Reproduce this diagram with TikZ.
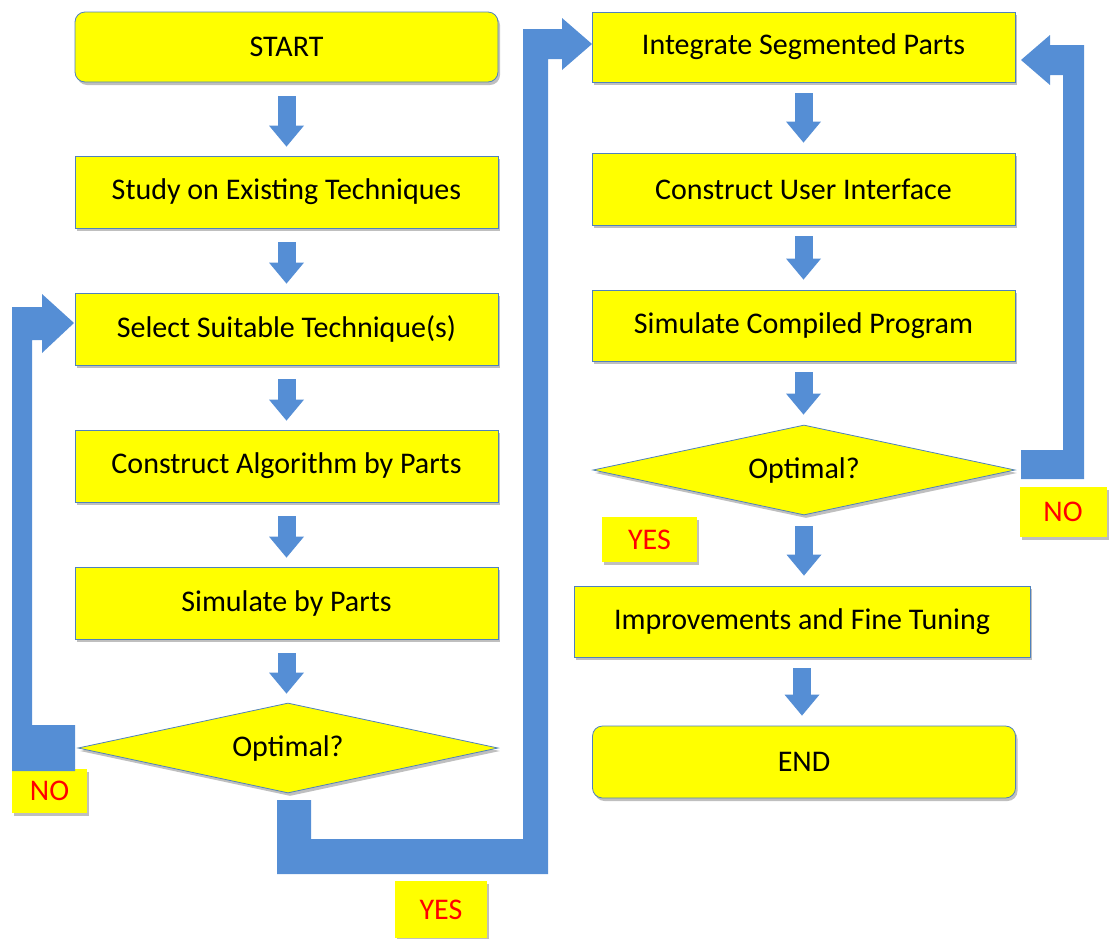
\documentclass[tikz,border=0pt]{standalone}
\usepackage{fontspec}
\setmainfont{Carlito}
\usetikzlibrary{shapes.geometric,arrows.meta,shadows}
\definecolor{boxyellow}{RGB}{255,255,0}
\definecolor{boxborder}{RGB}{79,129,189}
\definecolor{arrowblue}{RGB}{85,142,213}
\definecolor{labelred}{RGB}{255,0,0}
\begin{document}
\begin{tikzpicture}[x=1pt,y=-1pt,
  font=\fontsize{30}{36}\selectfont,
  shadowed/.style={drop shadow={shadow xshift=2pt,shadow yshift=-3pt,opacity=0.25,fill=black}},
  procbox/.style={draw=boxborder,line width=0.8pt,fill=boxyellow,minimum width=423pt,minimum height=72pt,inner sep=0pt,shadowed},
  termbox/.style={procbox,rounded corners=10pt},
  decision/.style={diamond,aspect=4.67,draw=boxborder,line width=0.8pt,fill=boxyellow,minimum width=420pt,minimum height=90pt,inner sep=0pt,shadowed},
  answer/.style={fill=boxyellow,text=labelred,inner sep=0pt,shadowed},
  flowarrow/.style={draw=arrowblue,line width=18pt,-{Triangle[width=35pt,length=21pt,line width=0pt]},shorten <=14pt,shorten >=9pt},
  bentarrow/.style={fill=arrowblue}
]
\useasboundingbox (0,0) rectangle (1109,938);

% left column
\node[termbox,minimum height=70pt] (start) at (286.5,47) {START};
\node[procbox] (study) at (286.5,192) {Study on Existing Techniques};
\node[procbox] (select) at (286.5,329) {Select Suitable Technique(s)};
\node[procbox] (algo) at (286.5,466) {Construct Algorithm by Parts};
\node[procbox] (simparts) at (286.5,603) {Simulate by Parts};
\node[decision] (opt1) at (288,748) {Optimal?};

% right column
\node[procbox,minimum height=70pt] (integ) at (803.5,47) {Integrate Segmented Parts};
\node[procbox] (ui) at (803.5,189) {Construct User Interface};
\node[procbox,minimum height=71pt] (simcomp) at (803.5,325.5) {Simulate Compiled Program};
\node[decision,minimum width=422pt] (opt2) at (804,470) {Optimal?};
\node[procbox,minimum width=456pt,minimum height=71pt] (improve) at (802,621.5) {Improvements and Fine Tuning};
\node[termbox] (end) at (804,762) {END};

% answer labels
\node[answer,minimum width=75pt,minimum height=44pt] (no1) at (49.5,791) {NO};
\node[answer,minimum width=87pt,minimum height=50pt] (no2) at (1063,512) {NO};
\node[answer,minimum width=95pt,minimum height=45pt] (yes2) at (649.5,539.5) {YES};
\node[answer,minimum width=92pt,minimum height=57pt] (yes1) at (441,909.5) {YES};

% straight flow arrows
\draw[flowarrow] (start) -- (study);
\draw[flowarrow] (study) -- (select);
\draw[flowarrow] (select) -- (algo);
\draw[flowarrow] (algo) -- (simparts);
\draw[flowarrow] (simparts.south) -- (simparts.south |- opt1.north);
\draw[flowarrow,shorten <=11pt,shorten >=10pt] (integ) -- (ui);
\draw[flowarrow,shorten <=11pt,shorten >=10pt] (ui) -- (simcomp);
\draw[flowarrow,shorten <=11pt,shorten >=10pt] (simcomp.south) -- (simcomp.south |- opt2.north);
\draw[flowarrow,shorten <=11pt,shorten >=10pt] (opt2.south) -- (opt2.south |- improve.north);
\draw[flowarrow,shorten <=11pt,shorten >=10pt] (improve.south) -- (improve.south |- end.north);

% bent arrows
\fill[bentarrow] (75,725) -- (32,725) -- (32,340) -- (42,340) -- (42,353) -- (74,323)
  -- (42,294) -- (42,307) -- (12,307) -- (12,771) -- (75,771) -- cycle;
\fill[bentarrow] (277,800) -- (311,800) -- (311,839) -- (523,839) -- (523,29) -- (562,29)
  -- (562,18) -- (592,44) -- (562,70) -- (562,59) -- (548,59) -- (548,874) -- (277,874) -- cycle;
\fill[bentarrow] (1021,450) -- (1063,450) -- (1063,75) -- (1050,75) -- (1050,85) -- (1021,60)
  -- (1050,35) -- (1050,45) -- (1084,45) -- (1084,479) -- (1021,479) -- cycle;
\end{tikzpicture}
\end{document}
